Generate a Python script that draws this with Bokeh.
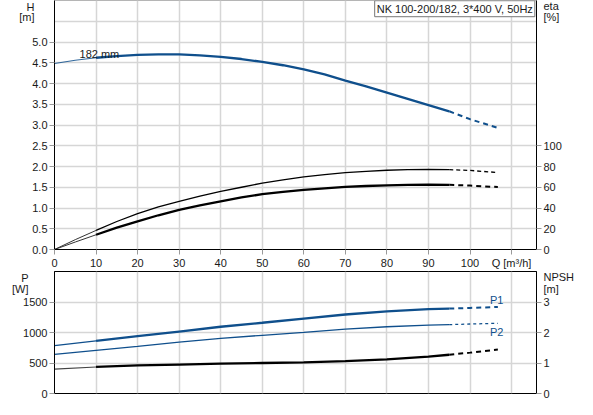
from bokeh.plotting import figure
from bokeh.models import Range1d, LinearAxis, FixedTicker, Label, NumeralTickFormatter
from bokeh.layouts import column
from bokeh.embed import file_html
from bokeh.resources import INLINE

# ---------------- data ----------------
# Head curve H [m]
q_h = [0, 5, 10, 15, 20, 25, 30, 35, 40, 45, 50, 55, 60, 65, 70, 75, 80, 85, 90, 95]
h_m = [4.48, 4.56, 4.62, 4.66, 4.69, 4.70, 4.70, 4.68, 4.64, 4.59, 4.52, 4.44, 4.34,
       4.22, 4.07, 3.93, 3.78, 3.63, 3.48, 3.33]
q_h_ext = [95, 100, 106.7]
h_m_ext = [3.33, 3.14, 2.93]

# Efficiency curves eta [%]
q_eta = [0, 5, 10, 15, 20, 25, 30, 35, 40, 45, 50, 55, 60, 65, 70, 75, 80, 85, 90, 95]
eta_pump = [0, 9.5, 18.4, 27.0, 34.5, 41.0, 46.5, 51.5, 56.0, 60.0, 64.0, 67.2, 70.0,
            72.2, 74.0, 75.3, 76.4, 77.0, 77.2, 76.9]
eta_total = [0, 7.2, 14.2, 21.0, 27.2, 33.0, 38.2, 42.6, 46.5, 50.2, 53.3, 55.6, 57.4,
             59.0, 60.3, 61.2, 61.9, 62.3, 62.5, 62.3]
q_eta_ext = [95, 100, 106.7]
eta_pump_ext = [76.9, 76.2, 74.2]
eta_total_ext = [62.3, 61.6, 60.2]

# Power P1 / P2 [W] and NPSH [m]
q_p = [0, 10, 20, 30, 40, 50, 60, 70, 80, 90, 95]
p1_w = [784, 862, 939, 1016, 1094, 1160, 1228, 1295, 1345, 1383, 1392]
p2_w = [640, 707, 773, 841, 905, 954, 1001, 1055, 1094, 1120, 1129]
npsh_m = [0.80, 0.87, 0.92, 0.95, 0.98, 1.00, 1.02, 1.06, 1.12, 1.21, 1.27]
q_p_ext = [95, 100, 106.7]
p1_w_ext = [1392, 1403, 1418]
p2_w_ext = [1129, 1139, 1151]
npsh_m_ext = [1.27, 1.34, 1.44]

x_ticks = [0, 10, 20, 30, 40, 50, 60, 70, 80, 90, 100, 110]
h_ticks = [0, 0.5, 1.0, 1.5, 2.0, 2.5, 3.0, 3.5, 4.0, 4.5, 5.0]
h_grid = [0, 0.5, 1.0, 1.5, 2.0, 2.5, 3.0, 3.5, 4.0, 4.5, 5.0, 5.5, 6.0]
eta_ticks = [0, 20, 40, 60, 80, 100]
p_ticks = [0, 500, 1000, 1500]
p_grid = [0, 500, 1000, 1500, 2000]
npsh_ticks = [0, 1, 2, 3]

title_text = "NK 100-200/182, 3*400 V, 50Hz"
h_unit_labels = {5.88: "H", 5.6: "[m]"}
eta_unit_labels = {235.0: "eta", 224.0: "[%]"}
p_unit_labels = {1910: "P", 1720: "[W]"}
npsh_unit_labels = {3.82: "NPSH", 3.44: "[m]"}

# ---------------- styling ----------------
FONT = "Liberation Sans"
FS = "11px"
TXT = "#1a1a1a"
BLUE = "#0f4f8c"
GRID = "#d6d6d6"
W = 577
LB = 54
RB = 39


def style_axis(ax):
    ax.axis_line_color = "black"
    ax.axis_line_width = 1
    ax.major_tick_line_color = "#9a9a9a"
    ax.major_tick_out = 5
    ax.major_tick_in = 0
    ax.minor_tick_line_color = None
    ax.major_label_text_font = FONT
    ax.major_label_text_font_size = FS
    ax.major_label_text_color = TXT
    ax.major_label_standoff = 2


def unit_axis(labels, standoff, y_range_name="default"):
    ax = LinearAxis(ticker=FixedTicker(ticks=list(labels.keys())),
                    major_label_overrides=labels, y_range_name=y_range_name)
    style_axis(ax)
    ax.axis_line_color = None
    ax.major_tick_line_color = None
    ax.major_tick_out = 0
    ax.major_label_standoff = standoff
    return ax


def right_axes(ticks, units, y_range_name):
    # inner axis: line + tick marks only
    inner = LinearAxis(y_range_name=y_range_name, ticker=FixedTicker(ticks=ticks),
                       major_label_overrides={t: "" for t in ticks})
    style_axis(inner)
    inner.major_label_standoff = 0
    # outer axis: tick values plus the unit caption, no line or marks
    labels = dict(units)
    outer = LinearAxis(y_range_name=y_range_name,
                       ticker=FixedTicker(ticks=list(ticks) + list(units.keys())),
                       major_label_overrides=labels)
    style_axis(outer)
    outer.axis_line_color = None
    outer.major_tick_line_color = None
    outer.major_tick_out = 0
    outer.major_label_standoff = 2
    return inner, outer


def txt(x, y, s, align="center", baseline="middle", color=TXT, y_range_name="default"):
    return Label(x=x, y=y, text=s, text_font=FONT, text_font_size=FS, text_color=color,
                 text_align=align, text_baseline=baseline, y_range_name=y_range_name)


# ---------------- top figure: H and eta ----------------
p = figure(width=W, height=271, x_range=Range1d(0, 116), y_range=Range1d(0, 6),
           output_backend="svg", toolbar_location=None,
           min_border_left=LB, min_border_right=RB, min_border_top=0, min_border_bottom=21)
p.extra_y_ranges = {"eta": Range1d(0, 240)}
p.outline_line_color = "#b5b5b5"
p.background_fill_color = "white"
p.border_fill_color = "white"

p.xaxis.ticker = FixedTicker(ticks=x_ticks)
p.xaxis.major_label_overrides = {110: "Q [m\u00b3/h]"}
p.yaxis.ticker = FixedTicker(ticks=h_ticks)
p.yaxis.formatter = NumeralTickFormatter(format="0.0")
p.xgrid.ticker = FixedTicker(ticks=x_ticks)
p.ygrid.ticker = FixedTicker(ticks=h_grid)
for g in (p.xgrid, p.ygrid):
    g.grid_line_color = GRID
    g.grid_line_width = 1.5
style_axis(p.xaxis[0])
style_axis(p.yaxis[0])

for ax in right_axes(eta_ticks, eta_unit_labels, "eta"):
    p.add_layout(ax, "right")
p.add_layout(unit_axis(h_unit_labels, -5), "left")

# H curve
p.line(q_h[:3], h_m[:3], line_color=BLUE, line_width=1.1, line_alpha=0.85)
p.line(q_h[2:], h_m[2:], line_color=BLUE, line_width=2.3)
p.line(q_h_ext, h_m_ext, line_color=BLUE, line_width=2.0, line_dash="5 4")

# eta curves
p.line(q_eta[:3], eta_pump[:3], y_range_name="eta", line_color="#333333", line_width=1.0)
p.line(q_eta[2:], eta_pump[2:], y_range_name="eta", line_color="black", line_width=1.3)
p.line(q_eta_ext, eta_pump_ext, y_range_name="eta", line_color="black", line_width=1.3,
       line_dash="4 3")
p.line(q_eta[:3], eta_total[:3], y_range_name="eta", line_color="#333333", line_width=1.0)
p.line(q_eta[2:], eta_total[2:], y_range_name="eta", line_color="black", line_width=2.3)
p.line(q_eta_ext, eta_total_ext, y_range_name="eta", line_color="black", line_width=2.0,
       line_dash="5 4")

p.add_layout(txt(10.8, 4.72, "182 mm"))
p.add_layout(Label(x=115.6, y=5.995, text=title_text, text_font=FONT, text_font_size=FS,
                   text_color=TXT, text_align="right", text_baseline="top",
                   background_fill_color="white", border_line_color="#777777",
                   padding=2))

# ---------------- bottom figure: P1, P2, NPSH ----------------
b = figure(width=W, height=128, x_range=p.x_range, y_range=Range1d(0, 2000),
           output_backend="svg", toolbar_location=None,
           min_border_left=LB, min_border_right=RB, min_border_top=0, min_border_bottom=6)
b.extra_y_ranges = {"npsh": Range1d(0, 4)}
b.outline_line_color = "black"
b.background_fill_color = "white"
b.border_fill_color = "white"
b.xaxis.visible = False
b.yaxis.ticker = FixedTicker(ticks=p_ticks)
b.yaxis.formatter = NumeralTickFormatter(format="0")
b.xgrid.ticker = FixedTicker(ticks=x_ticks)
b.ygrid.ticker = FixedTicker(ticks=p_grid)
for g in (b.xgrid, b.ygrid):
    g.grid_line_color = GRID
    g.grid_line_width = 1.5
style_axis(b.yaxis[0])

for ax in right_axes(npsh_ticks, npsh_unit_labels, "npsh"):
    b.add_layout(ax, "right")
b.add_layout(unit_axis(p_unit_labels, -8), "left")

b.line(q_p[:2], p1_w[:2], line_color=BLUE, line_width=1.3)
b.line(q_p[1:], p1_w[1:], line_color=BLUE, line_width=2.3)
b.line(q_p_ext, p1_w_ext, line_color=BLUE, line_width=2.0, line_dash="5 4")
b.line(q_p, p2_w, line_color=BLUE, line_width=1.3)
b.line(q_p_ext, p2_w_ext, line_color=BLUE, line_width=1.3, line_dash="3 3")
b.line(q_p[:2], npsh_m[:2], y_range_name="npsh", line_color="#444444", line_width=1.1)
b.line(q_p[1:], npsh_m[1:], y_range_name="npsh", line_color="black", line_width=2.3)
b.line(q_p_ext, npsh_m_ext, y_range_name="npsh", line_color="black", line_width=2.0,
       line_dash="5 4")

b.add_layout(txt(104.8, 1530, "P1", align="left", color=BLUE))
b.add_layout(txt(104.8, 1010, "P2", align="left", color=BLUE))

layout = column(p, b, spacing=0)
open("out.html", "w").write(file_html(layout, INLINE))
